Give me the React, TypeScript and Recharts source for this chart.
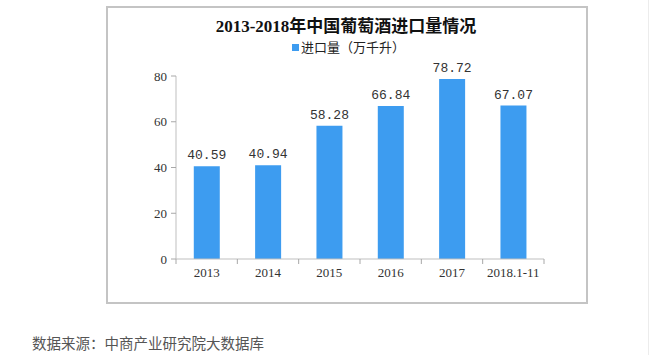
import React from "react";
import { BarChart, Bar, XAxis, YAxis, LabelList } from "recharts";

const categories = ["2013", "2014", "2015", "2016", "2017", "2018.1-11"];
const importVolume = [40.59, 40.94, 58.28, 66.84, 78.72, 67.07];
const yTicks = [0, 20, 40, 60, 80];

const data = categories.map((c, i) => ({ name: c, value: importVolume[i] }));

const BAR = "#3d9cf0";
const AXIS = "#bfbfbf";
const SERIF = "'Liberation Serif', 'DejaVu Serif', 'Noto Sans CJK SC', serif";

const XTick = (props: any) => {
  const { x, y, payload, index } = props;
  const off = payload && typeof payload.offset === "number" ? payload.offset : 0;
  return (
    <g>
      <line x1={x - off} x2={x - off} y1={y - 8} y2={y - 3} stroke="#a8a8a8" />
      {index === categories.length - 1 && (
        <line x1={x + off} x2={x + off} y1={y - 8} y2={y - 3} stroke="#a8a8a8" />
      )}
      <text x={x} y={y + 10} textAnchor="middle" fontSize={13} fill="#333" fontFamily={SERIF}>
        {payload.value}
      </text>
    </g>
  );
};

export default function App() {
  return (
    <div style={{ position: "absolute", left: 0, top: 0, width: 650, height: 355, background: "#fff" }}>
      <div
        style={{
          position: "absolute",
          left: 106,
          top: 6,
          width: 478,
          height: 294,
          border: "2px solid #c4c4c4",
        }}
      />
      <div style={{ position: "absolute", left: 648, top: 0, width: 1, height: 355, background: "#ececec" }} />
      <div
        style={{
          position: "absolute",
          left: 106,
          top: 16,
          width: 480,
          textAlign: "center",
          fontFamily: SERIF,
          fontWeight: "bold",
          fontSize: 17,
          color: "#111",
          lineHeight: "22px",
        }}
      >
        2013-2018年中国葡萄酒进口量情况
      </div>
      <div
        style={{
          position: "absolute",
          left: 292,
          top: 38,
          display: "flex",
          alignItems: "center",
          fontFamily: "'Noto Sans CJK SC', sans-serif",
          fontSize: 13,
          color: "#222",
          lineHeight: "18px",
        }}
      >
        <span style={{ display: "inline-block", width: 7, height: 7, background: BAR, marginRight: 2 }} />
        进口量（万千升）
      </div>
      <div style={{ position: "absolute", left: 0, top: 0 }}>
        <BarChart
          width={650}
          height={355}
          data={data}
          margin={{ top: 76, right: 106, bottom: 66, left: 116 }}
          barCategoryGap="29%"
        >
          <XAxis
            dataKey="name"
            axisLine={{ stroke: AXIS }}
            tickLine={false}
            tick={<XTick />}
            height={30}
            interval={0}
          />
          <YAxis
            domain={[0, 80]}
            ticks={yTicks}
            width={60}
            axisLine={{ stroke: AXIS }}
            tickLine={{ stroke: "#a8a8a8" }}
            tickSize={5}
            tickMargin={4}
            tick={{ fontSize: 13, fill: "#333", fontFamily: SERIF }}
          />
          <Bar dataKey="value" fill={BAR} isAnimationActive={false}>
            <LabelList
              dataKey="value"
              position="top"
              offset={7}
              fontSize={13}
              fill="#333"
              fontFamily="'Liberation Mono', 'DejaVu Sans Mono', monospace"
            />
          </Bar>
        </BarChart>
      </div>
      <div
        style={{
          position: "absolute",
          left: 32,
          top: 333,
          fontFamily: "'Noto Sans CJK SC', sans-serif",
          fontSize: 14.5,
          color: "#555",
          lineHeight: "20px",
        }}
      >
        数据来源：中商产业研究院大数据库
      </div>
    </div>
  );
}
